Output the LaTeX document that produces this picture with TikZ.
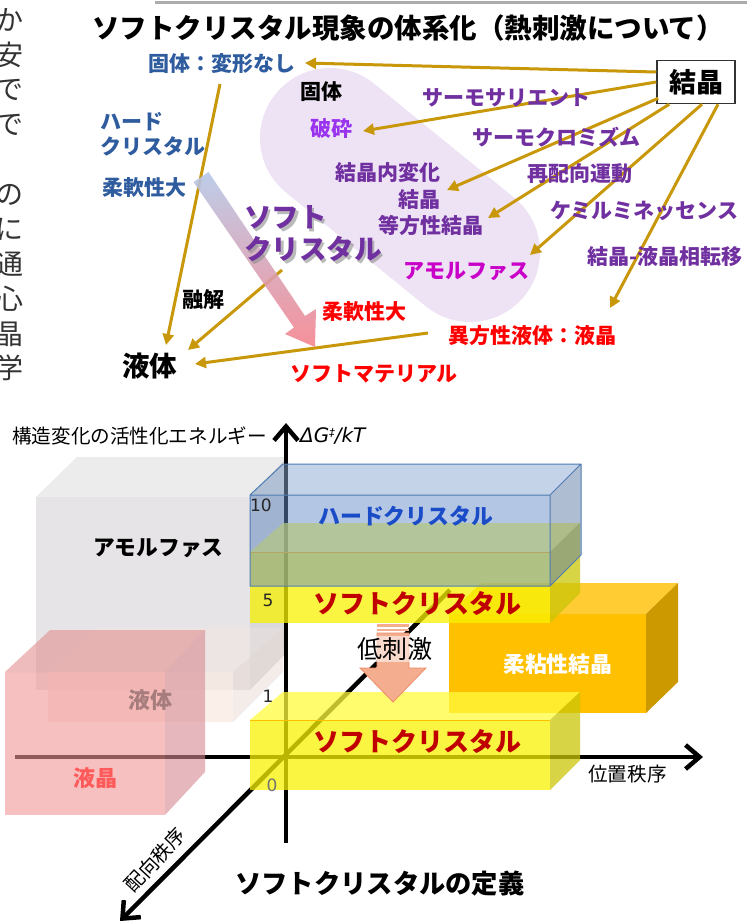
\documentclass[tikz,border=0pt]{standalone}
\usepackage{fontspec}
\setmainfont{Noto Sans CJK JP}
\newfontfamily\dvs{DejaVu Sans}
\usetikzlibrary{arrows.meta,calc}
\newcommand\fz[2]{\fontsize{#1}{#2}\selectfont}
\definecolor{gold}{HTML}{C9980A}
\definecolor{purp}{HTML}{7030A0}
\definecolor{bluet}{HTML}{2E5C9E}
\definecolor{lav}{HTML}{EEE3F5}
\definecolor{magt}{HTML}{C800C8}
\definecolor{viol}{HTML}{9933EE}
\definecolor{redt}{HTML}{FF0000}
\definecolor{dred}{HTML}{C00000}
\definecolor{hcblue}{HTML}{1A4CC8}
\definecolor{bandtop}{HTML}{B4C7E7}
\definecolor{bandbot}{HTML}{F5828C}
\definecolor{amfront}{HTML}{E6E4E6}
\definecolor{amtop}{HTML}{ECECEC}
\definecolor{amside}{HTML}{D9D8DA}
\definecolor{slabc}{HTML}{FAEAE2}
\definecolor{pkfront}{HTML}{F09696}
\definecolor{pktop}{HTML}{E39090}
\definecolor{pkside}{HTML}{D68A92}
\definecolor{orfront}{HTML}{FFC000}
\definecolor{ortop}{HTML}{FFCC33}
\definecolor{orside}{HTML}{CC9A00}
\definecolor{yfront}{HTML}{F8F200}
\definecolor{ytop}{HTML}{FFFB3E}
\definecolor{yside}{HTML}{CAC608}
\definecolor{bfront}{HTML}{698FC9}
\definecolor{btop}{HTML}{8BA9D1}
\definecolor{bside}{HTML}{5F7DA5}
\definecolor{bedge}{HTML}{4F7CB3}
\definecolor{lqtext}{HTML}{A67C7C}
\definecolor{lctext}{HTML}{FF5A5A}
\definecolor{arrf}{HTML}{F5AD90}
\definecolor{arrd}{HTML}{EE8C64}
\begin{document}
\begin{tikzpicture}[x=1pt,y=-1pt,
  t/.style={inner sep=0pt, anchor=west},
  jb/.style={t, font=\bfseries\fz{21}{25}},
  jr/.style={t, font=\fz{19.6}{22}},
  ga/.style={draw=gold, line width=3pt, -{Triangle[length=11pt,width=11pt]}},
  axisline/.style={line width=4.5pt, -{Straight Barb[length=14pt,width=24pt]}},
  tick/.style={font=\dvs\fz{17}{17}, text=black!85, inner sep=0pt},
]
\useasboundingbox (0,0) rectangle (747,922);
\fill[white] (0,0) rectangle (747,922);

% top rule and cut-off left column
\draw[gray!65, line width=3pt] (155,2) -- (747,2);
\foreach \ch/\yy [count=\i] in {か/20,安/55,で/90,で/125,の/195,に/229,通/264,心/299,晶/334,学/368}
  \node[font=\fz{28}{28}, text=black!80, inner sep=0pt] (lc\i) at (9,\yy) {\ch};

% ================= upper diagram =================
\draw[lav, line width=140pt, line cap=round] (330,138) -- (470,252);

\node[draw=black!80, line width=1.5pt, fill=white, minimum width=78pt, minimum height=43pt,
      inner sep=0pt, font=\bfseries\fz{27}{27}] (kessho) at (696,82) {結晶};

\coordinate (tA1) at (305,63);
\coordinate (tA2) at (363,131);
\coordinate (tA3) at (447,190);
\coordinate (tA4) at (488,218);
\coordinate (tA5) at (530,255);
\coordinate (tA6) at (610,308);
\draw[ga] ($(kessho.west)+(0,-10)$) -- (tA1);
\draw[ga] (kessho.west) -- (tA2);
\draw[ga] ($(kessho.south west)+(2,-6)$) -- (tA3);
\draw[ga] ($(kessho.south west)+(13,0)$) -- (tA4);
\draw[ga] ($(kessho.south)+(6,0)$) -- (tA5);
\draw[ga] ($(kessho.south)+(22,0)$) -- (tA6);

\coordinate (m1s) at (220,84);
\coordinate (m1e) at (166,345);
\coordinate (m2s) at (282,270);
\coordinate (m2e) at (188,350);
\coordinate (m3s) at (428,333);
\coordinate (m3e) at (195,364);
\draw[ga] (m1s) -- (m1e);
\draw[ga] (m2s) -- (m2e);
\draw[ga] (m3s) -- (m3e);

% gradient arrow
\shade[top color=bandtop, bottom color=bandbot, opacity=0.88]
  (208.5,172) -- (305,316) -- (316,309) -- (315,347) -- (285,334) -- (294,327.5) -- (193.5,182) -- cycle;

% upper texts
\node[jb, font=\bfseries\fz{27.5}{30}] (title) at (92,28) {ソフトクリスタル現象の体系化（熱刺激について）};
\node[jb, text=bluet] (kotai) at (148,64) {固体：変形なし};
\node[jb, text=purp] (thermosal) at (422,98) {サーモサリエント};
\node[jb, text=purp] (thermochr) at (472,137) {サーモクロミズム};
\node[jb, text=purp] (reorient) at (527,174) {再配向運動};
\node[jb, text=purp] (chemilum) at (550,211) {ケミルミネッセンス};
\node[jb, text=purp] (phasetr) at (587,257) {結晶-液晶相転移};
\node[jb] (kotai2) at (300,92) {固体};
\node[jb, text=viol] (hasai) at (310,129) {破砕};
\node[jb, text=purp] (naihenka) at (335,173) {結晶内変化};
\node[jb, text=purp] (kessho2) at (398,200) {結晶};
\node[jb, text=purp] (touhou) at (378,226) {等方性結晶};
\node[jb, text=magt] (amorph) at (403,272) {アモルファス};
\node[jb, text=bluet, align=left] (hard) at (100,134.5) {ハード\\クリスタル};
\node[jb, text=bluet] (flexb) at (102,188) {柔軟性大};
\node[jb] (yukai) at (182,300) {融解};
\node[jb, text=black!45, opacity=0.6, align=left, font=\bfseries\fz{27.5}{32}] (softsh) at (246.5,236.5) {ソフト\\クリスタル};
\node[jb, text=purp, align=left, font=\bfseries\fz{27.5}{32}] (softbig) at (244,234) {ソフト\\クリスタル};
\node[jb, text=redt] (flexr) at (322,312) {柔軟性大};
\node[jb, text=redt] (ihou) at (448,336) {異方性液体：液晶};
\node[jb, text=redt] (softmat) at (290,374) {ソフトマテリアル};
\node[jb, font=\bfseries\fz{27.5}{30}] (ekitai) at (122,366) {液体};

% ================= lower diagram =================
% amorphous (gray) box
\fill[amfront] (36,497) rectangle (250,690);
\fill[amtop] (36,497) -- (77,457) -- (287,457) -- (250,497) -- cycle;
\fill[amside] (250,497) -- (287,457) -- (287,652) -- (250,690) -- cycle;

% faint liquid slab
\fill[slabc, opacity=0.3] (48,672) -- (98,628) -- (283,628) -- (233,672) -- cycle;
\fill[slabc, opacity=0.75] (48,672) rectangle (233,722);
\fill[slabc!85!gray, opacity=0.5] (233,672) -- (283,628) -- (283,672) -- (233,722) -- cycle;

% axes
\coordinate (vb) at (286,843);
\coordinate (vt) at (286,423);
\coordinate (hl) at (15,757);
\coordinate (hr) at (703,757);
\coordinate (dt) at (450,590);
\coordinate (db) at (120,921);
\draw[axisline] (vb) -- (vt);
\draw[axisline] (hl) -- (hr);
\draw[axisline] (dt) -- (db);

% liquid crystal (pink) box
\fill[pkfront, opacity=0.6] (5,672) rectangle (165,815);
\fill[pktop, opacity=0.6] (5,672) -- (50,630) -- (205,630) -- (165,672) -- cycle;
\fill[pkside, opacity=0.6] (165,672) -- (205,630) -- (205,772) -- (165,815) -- cycle;

% plastic crystal (orange) box
\fill[orfront] (449,614) rectangle (646,713);
\fill[ortop] (449,614) -- (481,583) -- (678,583) -- (646,614) -- cycle;
\fill[orside] (646,614) -- (678,583) -- (678,682) -- (646,713) -- cycle;

% lower soft crystal (yellow) box
\fill[yfront, opacity=0.75] (250,720) rectangle (550,790);
\fill[ytop, opacity=0.75] (250,720) -- (283,692) -- (580,692) -- (550,720) -- cycle;
\fill[yside, opacity=0.75] (550,720) -- (580,692) -- (580,760) -- (550,790) -- cycle;
\draw[orfront, line width=0.8pt] (250,720) -- (550,720);

% upper soft crystal (yellow) box
\fill[yfront, opacity=0.75] (250,552) rectangle (550,623);
\fill[ytop, opacity=0.75] (250,552) -- (283,523) -- (580,523) -- (550,552) -- cycle;
\fill[yside, opacity=0.75] (550,552) -- (580,523) -- (580,593) -- (550,623) -- cycle;
\draw[orfront, line width=0.8pt] (250,552) -- (550,552);

% hard crystal (blue) box
\fill[bfront, opacity=0.5] (250,495) rectangle (550,586);
\fill[btop, opacity=0.5] (250,495) -- (283,464) -- (581,464) -- (550,495) -- cycle;
\fill[bside, opacity=0.5] (550,495) -- (581,464) -- (581,555) -- (550,586) -- cycle;
\draw[bedge, line width=1pt, line join=round] (250,495) rectangle (550,586)
  (250,495) -- (283,464) -- (581,464) -- (550,495) (581,464) -- (581,555) -- (550,586);

% low-stimulus arrow
\fill[arrf] (377,624) rectangle (409,626.5);
\fill[arrf] (377,628.5) rectangle (409,631);
\filldraw[fill=arrf, draw=arrd, line width=0.8pt]
  (377,633) -- (409,633) -- (409,668) -- (426,668) -- (393,702) -- (360,668) -- (377,668) -- cycle;

% lower texts
\node[jr] (yaxis) at (12,436) {構造変化の活性化エネルギー};
\node[t, font=\dvs\itshape\fz{20}{20}] (dg) at (300,436) {ΔG\raisebox{0.55ex}{\fz{11}{11}‡}/kT};
\node[jr] (xaxis) at (588,774) {位置秩序};
\node[font=\fz{19.6}{22}, inner sep=0pt, rotate=47] (daxis) at (155,860) {配向秩序};
\node[tick] (t10) at (261,505) {10};
\node[tick] (t5) at (268,600) {5};
\node[tick] (t1) at (268,696) {1};
\node[tick, text=black!55] (t0) at (272,785) {0};
\node[jb, font=\bfseries\fz{21.7}{24}] (amlab) at (93,548) {アモルファス};
\node[jb, text=hcblue, font=\bfseries\fz{21.9}{24}] (hclab) at (318,516) {ハードクリスタル};
\node[jb, text=dred, font=\bfseries\fz{26}{28}] (sc1) at (313,603) {ソフトクリスタル};
\node[jb, text=white, font=\bfseries\fz{21.8}{24}] (pclab) at (503,664) {柔粘性結晶};
\node[fill=white, fill opacity=0.55, text opacity=1, inner sep=1pt, font=\fz{25}{25}] (low) at (395,649) {低刺激};
\node[jb, text=dred, font=\bfseries\fz{26}{28}] (sc2) at (313,741) {ソフトクリスタル};
\node[jb, text=lqtext, font=\bfseries\fz{22}{24}] (lqlab) at (128,700) {液体};
\node[jb, text=lctext, font=\bfseries\fz{22}{24}] (lclab) at (73,778) {液晶};
\node[jb, font=\bfseries\fz{26.3}{28}] (deftitle) at (235,884) {ソフトクリスタルの定義};
\end{tikzpicture}
\end{document}
